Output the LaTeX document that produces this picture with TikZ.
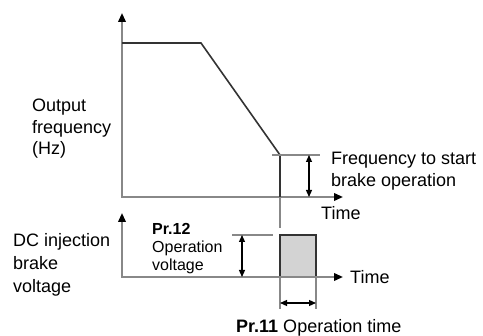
\documentclass[tikz,border=0pt]{standalone}
\usepackage{fontspec}
\setmainfont{Liberation Sans}
\usetikzlibrary{arrows.meta}
\definecolor{axisgray}{HTML}{888888}
\definecolor{curvec}{HTML}{333333}
\definecolor{boxfill}{HTML}{D3D3D3}
\tikzset{
  axisline/.style={draw=axisgray,line width=2pt,
    {Triangle[length=9pt,width=7.5pt,color=black]}-{Triangle[length=9pt,width=7.5pt,color=black]}},
  curveline/.style={draw=curvec,line width=1.6pt},
  tickline/.style={draw=axisgray,line width=1.4pt},
  dimarrow/.style={draw=black,line width=1.2pt,
    {Triangle[length=7pt,width=6pt]}-{Triangle[length=7pt,width=6pt]}},
  pulsebox/.style={draw=curvec,line width=1.3pt,fill=boxfill},
  lbl/.style={font=\fontsize{18}{21.5}\selectfont,inner sep=0pt,anchor=west,align=left},
  smalllbl/.style={font=\fontsize{16}{19}\selectfont,inner sep=0pt,anchor=west,align=left}
}
\begin{document}
\begin{tikzpicture}[x=1pt,y=-1pt]
\useasboundingbox (0,0) rectangle (483,336);
% top graph
\coordinate (ytop) at (122,13);
\coordinate (otop) at (122,197);
\coordinate (xtop) at (343,197);
\draw[axisline] (ytop) -- (otop) -- (xtop);
\coordinate (f0) at (122,43);
\coordinate (f1) at (201,43);
\coordinate (f2) at (280,155);
\coordinate (f3) at (280,197);
\coordinate (f4) at (280,228);
\draw[curveline] (f0) -- (f1) -- (f2) -- (f3);
\draw[tickline] (f3) -- (f4);
\coordinate (ft0) at (272,155);
\coordinate (ft1) at (320,155);
\draw[tickline] (ft0) -- (ft1);
\coordinate (fa0) at (309,155);
\coordinate (fa1) at (309,197);
\draw[dimarrow] (fa0) -- (fa1);
% bottom graph
\coordinate (ybot) at (122,213);
\coordinate (obot) at (122,277);
\coordinate (xbot) at (343,277);
\draw[pulsebox] (280,235) rectangle (316,277);
\draw[axisline] (ybot) -- (obot) -- (xbot);
\coordinate (vt0) at (232,235);
\coordinate (vt1) at (273,235);
\draw[tickline] (vt0) -- (vt1);
\coordinate (va0) at (242,235);
\coordinate (va1) at (242,277);
\draw[dimarrow] (va0) -- (va1);
\coordinate (tt0) at (280,277);
\coordinate (tt1) at (280,309);
\coordinate (tt2) at (316,277);
\coordinate (tt3) at (316,309);
\draw[tickline] (tt0) -- (tt1);
\draw[tickline] (tt2) -- (tt3);
\coordinate (ta0) at (280,303);
\coordinate (ta1) at (316,303);
\draw[dimarrow] (ta0) -- (ta1);
% labels
\node[lbl] (outlbl) at (32,129) {Output\\frequency\\(Hz)};
\node[lbl] (dc1) at (13,242) {DC injection};
\node[lbl] (dc2) at (13,263) {brake};
\node[lbl] (dc3) at (13,288) {voltage};
\node[lbl] (freqlbl) at (331,171) {Frequency to start\\brake operation};
\node[lbl] (time1) at (321,213) {Time};
\node[lbl] (time2) at (350,277) {Time};
\node[smalllbl] (pr12) at (152,229) {\textbf{Pr.12}};
\node[smalllbl] (op12) at (152,248) {Operation};
\node[smalllbl] (vo12) at (152,266) {voltage};
\node[lbl] (pr11) at (236,328) {\textbf{Pr.11} Operation time};
\end{tikzpicture}
\end{document}
